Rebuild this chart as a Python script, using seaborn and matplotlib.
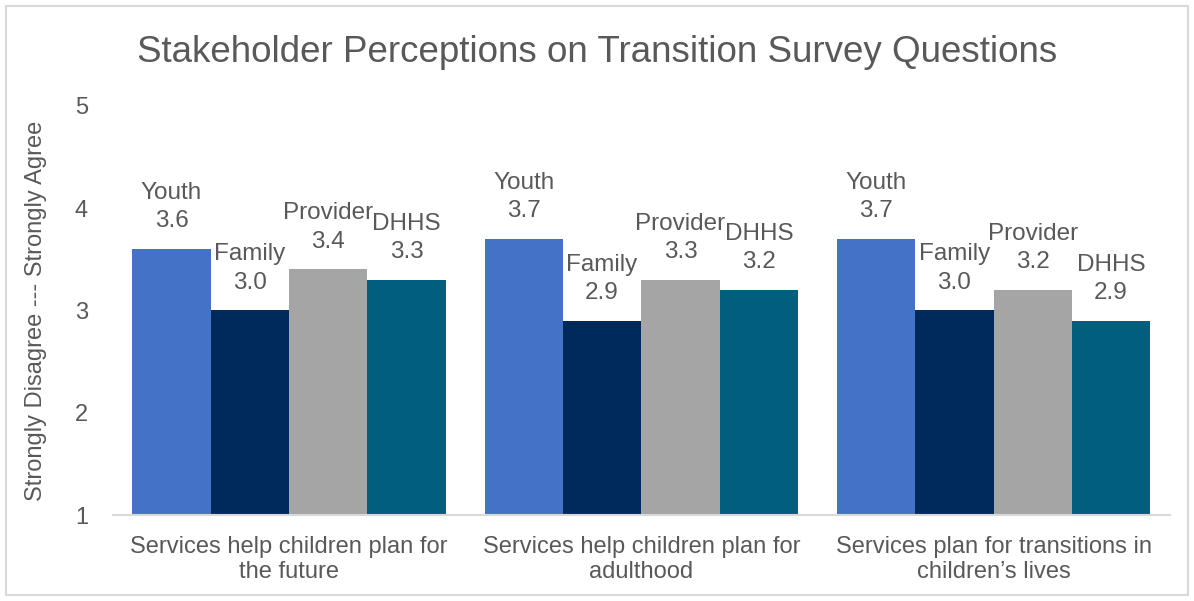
import pandas as pd
import seaborn as sns
import matplotlib.pyplot as plt
from matplotlib.patches import Rectangle

# Survey data
questions = [
    "Services help children plan for\nthe future",
    "Services help children plan for\nadulthood",
    "Services plan for transitions in\nchildren\u2019s lives",
]
groups = ["Youth", "Family", "Provider", "DHHS"]
youth = [3.6, 3.7, 3.7]
family = [3.0, 2.9, 3.0]
provider = [3.4, 3.3, 3.2]
dhhs = [3.3, 3.2, 2.9]
colors = ["#4472C4", "#002A5C", "#A5A5A5", "#005E7E"]

rows = []
for g, vals in zip(groups, [youth, family, provider, dhhs]):
    for q, v in zip(questions, vals):
        rows.append({"Question": q, "Group": g, "Score": v})
df = pd.DataFrame(rows)

sns.set_style("white")
plt.rcParams['font.family'] = ['Liberation Sans', 'DejaVu Sans']
text_color = "#595959"

fig = plt.figure(figsize=(11.94, 6.01), dpi=100)
ax = fig.add_axes([0.0946, 0.143, 0.885, 0.681])

sns.barplot(
    data=df, x="Question", y="Score", hue="Group",
    hue_order=groups, palette=colors, width=0.89,
    saturation=1, linewidth=0, ax=ax, legend=False,
)

ax.set_ylim(1, 5)
ax.set_yticks([1, 2, 3, 4, 5])
ax.set_xlim(-0.5, 2.5)
ax.set_xlabel("")
ax.set_ylabel("Strongly Disagree --- Strongly Agree", fontsize=17,
              color=text_color, labelpad=20)
ax.tick_params(axis="both", length=0, labelsize=17, colors=text_color)
ax.tick_params(axis="x", pad=15)
ax.tick_params(axis="y", pad=18)
for lbl in ax.get_xticklabels():
    lbl.set_linespacing(1.2)

for side in ["top", "right", "left"]:
    ax.spines[side].set_visible(False)
ax.spines["bottom"].set_color("#D9D9D9")
ax.spines["bottom"].set_linewidth(1.5)

# Data labels: group name + value above each bar
for container, g in zip(ax.containers, groups):
    for bar in container:
        h = bar.get_height()
        ax.annotate(f"{g}\n{h:.1f}",
                    xy=(bar.get_x() + bar.get_width() / 2, h),
                    xytext=(0, 12), textcoords="offset points",
                    ha="center", va="bottom", fontsize=17.5,
                    color=text_color, linespacing=1.38)

fig.suptitle("Stakeholder Perceptions on Transition Survey Questions",
             x=0.5, y=0.942, fontsize=26.5, color=text_color)

fig.patches.append(Rectangle((0.005, 0.01), 0.99, 0.98, transform=fig.transFigure,
                             fill=False, edgecolor="#D9D9D9", linewidth=1.5))

fig.savefig("out.png", dpi=100)
